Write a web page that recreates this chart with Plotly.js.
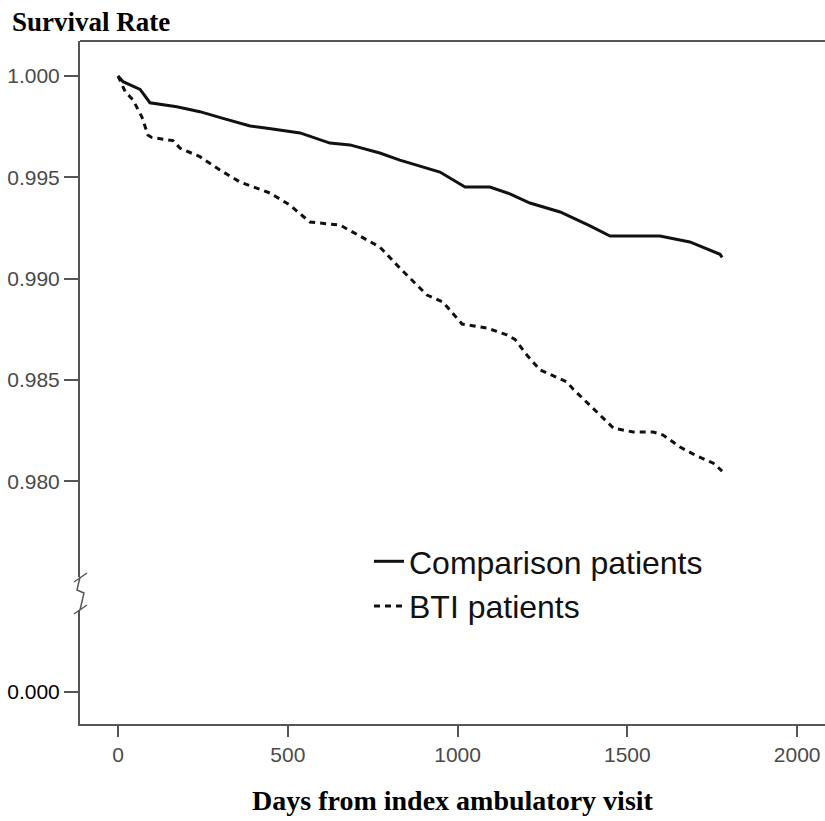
<!DOCTYPE html>
<html>
<head>
<meta charset="utf-8">
<script src="https://cdn.plot.ly/plotly-3.0.1.min.js"></script>
<style>html,body{margin:0;padding:0;background:#fff;}#chart{width:825px;height:821px;}</style>
</head>
<body>
<div id="chart"></div>
<script>
// Comparison patients (solid)
const compDays = [0, 15, 65, 94, 173, 241, 309, 389, 450, 536, 624, 683, 771, 830, 948, 1022, 1095, 1154, 1213, 1302, 1390, 1449, 1596, 1684, 1773, 1779];
const compSurv = [1.0000, 0.99972, 0.99934, 0.99868, 0.99848, 0.99824, 0.99791, 0.99753, 0.99740, 0.99719, 0.99669, 0.99660, 0.99620, 0.99585, 0.99526, 0.99452, 0.99452, 0.99418, 0.99373, 0.99329, 0.99260, 0.99210, 0.99210, 0.99181, 0.99120, 0.99105];

// BTI patients (dashed)
const btiDays = [0, 21, 44, 70, 88, 99, 162, 183, 241, 300, 359, 448, 506, 565, 654, 713, 771, 830, 910, 957, 1013, 1087, 1145, 1169, 1204, 1243, 1292, 1322, 1340, 1381, 1419, 1459, 1517, 1576, 1605, 1655, 1699, 1752, 1779];
const btiSurv = [1.0000, 0.99923, 0.99882, 0.99799, 0.99709, 0.99697, 0.99681, 0.99643, 0.99602, 0.99536, 0.99477, 0.99422, 0.99363, 0.99279, 0.99264, 0.99210, 0.99156, 0.99052, 0.98919, 0.98884, 0.98776, 0.98756, 0.98722, 0.98700, 0.98623, 0.98549, 0.98514, 0.98490, 0.98455, 0.98386, 0.98327, 0.98262, 0.98243, 0.98243, 0.98228, 0.98169, 0.98129, 0.98090, 0.98050];

const seriesNames = ['Comparison patients', 'BTI patients'];

// axis ticks (0.000 sits below the axis break)
const yTickVals = [1.000, 0.995, 0.990, 0.985, 0.980, 0.9696];
const yTickText = ['1.000', '0.995', '0.990', '0.985', '0.980', '<span style="color:#000">0.000</span>'];
const xTickVals = [0, 500, 1000, 1500, 2000];
const xTickText = ['0', '500', '1000', '1500', '2000'];

const W = 825, H = 821;
const mL = 80, mR = 0, mT = 41, mB = 97;
const pw = W - mL - mR, ph = H - mT - mB;
const px = x => (x - mL) / pw;
const py = y => (H - mB - y) / ph;

const tickFont = {family: '"Liberation Sans", Arial, sans-serif', size: 21, color: '#4a4a4a'};

const traces = [
  {x: compDays, y: compSurv, name: seriesNames[0], mode: 'lines', line: {color: '#111', width: 3, shape: 'linear'}},
  {x: btiDays, y: btiSurv, name: seriesNames[1], mode: 'lines', line: {color: '#111', width: 3, dash: '6px,5px', shape: 'linear'}}
];

const axisGray = '#555';

const layout = {
  width: W, height: H,
  margin: {l: mL, r: mR, t: mT, b: mB, pad: 0},
  paper_bgcolor: '#fff', plot_bgcolor: '#fff',
  showlegend: true,
  title: {
    text: 'Survival Rate',
    font: {family: '"Liberation Serif", "Times New Roman", serif', size: 27, color: '#000', weight: 'bold'},
    x: 12 / W, xref: 'container', xanchor: 'left',
    y: 1 - 22 / H, yref: 'container', yanchor: 'middle'
  },
  legend: {
    x: px(369), y: py(534), xanchor: 'left', yanchor: 'top',
    font: {family: '"Liberation Sans", Arial, sans-serif', size: 32, color: '#111'},
    bgcolor: 'rgba(0,0,0,0)', borderwidth: 0, itemwidth: 30, tracegroupgap: 0
  },
  xaxis: {
    range: [-112, 2082],
    tickvals: xTickVals, ticktext: xTickText,
    ticks: 'outside', ticklen: 11, tickwidth: 2, tickcolor: axisGray,
    showline: true, linecolor: axisGray, linewidth: 2,
    showgrid: false, zeroline: false,
    tickfont: tickFont,
    title: {text: 'Days from index ambulatory visit', standoff: 25,
            font: {family: '"Liberation Serif", "Times New Roman", serif', size: 28, color: '#000', weight: 'bold'}}
  },
  yaxis: {
    range: [0.968016, 1.001728],
    tickvals: yTickVals, ticktext: yTickText,
    ticks: 'outside', ticklen: 14, tickwidth: 2, tickcolor: axisGray,
    showline: true, linecolor: axisGray, linewidth: 2,
    showgrid: false, zeroline: false,
    tickfont: tickFont
  },
  shapes: [
    // top frame line
    {type: 'line', xref: 'paper', yref: 'paper', x0: 0, x1: 1, y0: 1, y1: 1, line: {color: axisGray, width: 2}, layer: 'above'},
    // gap in y axis line for the break
    {type: 'rect', xref: 'paper', yref: 'paper', x0: px(76), x1: px(84), y0: py(610), y1: py(577), fillcolor: '#fff', line: {width: 0}, layer: 'above'},
    // zigzag break
    {type: 'path', xref: 'paper', yref: 'paper', layer: 'above', line: {color: axisGray, width: 1.5},
     path: `M ${px(80)} ${py(577)} L ${px(77)} ${py(590)} L ${px(84)} ${py(593)} L ${px(80)} ${py(610)}`},
    {type: 'line', xref: 'paper', yref: 'paper', layer: 'above', line: {color: axisGray, width: 1.5},
     x0: px(74), y0: py(582), x1: px(87), y1: py(573)},
    {type: 'line', xref: 'paper', yref: 'paper', layer: 'above', line: {color: axisGray, width: 1.5},
     x0: px(74), y0: py(614), x1: px(87), y1: py(605)}
  ]
};

Plotly.newPlot('chart', traces, layout, {displayModeBar: false, staticPlot: true});
</script>
</body>
</html>
